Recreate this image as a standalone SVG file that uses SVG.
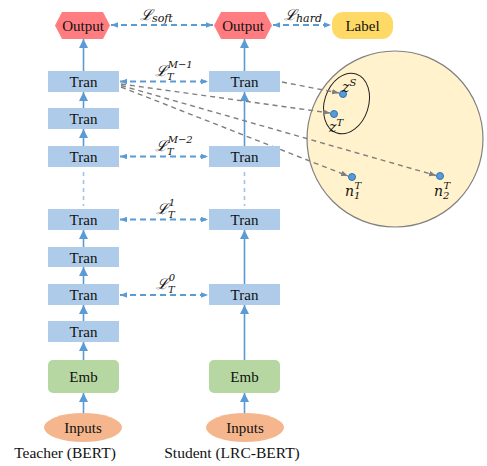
<svg xmlns="http://www.w3.org/2000/svg" width="487" height="466" viewBox="0 0 487 466">
<defs>
<style>
.tran{fill:#AECCEA}
.emb{fill:#B6D7A2}
.inp{fill:#F5B68E}
.out{fill:#FF7C80}
.lab{fill:#FFD966}
.t{font-family:'Liberation Serif','Times New Roman',serif;font-size:15px;fill:#111;text-anchor:middle}
.cap{font-family:'Liberation Serif','Times New Roman',serif;font-size:15.5px;fill:#111;text-anchor:middle}
.m{font-family:'DejaVu Serif','Liberation Serif',serif;font-style:italic;fill:#111}
.up{stroke:#5B9BD5;stroke-width:1.6;fill:none;marker-end:url(#ab)}
.vd{stroke:#9DC3E6;stroke-width:1.6;fill:none;stroke-dasharray:4 4}
.hd{stroke:#5B9BD5;stroke-width:2;fill:none;stroke-dasharray:6 4;marker-start:url(#hs);marker-end:url(#he)}
.gd{stroke:#7F7F7F;stroke-width:1.4;fill:none;stroke-dasharray:5 4;marker-end:url(#ga)}
.dot{fill:#5B9BD5;stroke:#2E75B6;stroke-width:1}
</style>
<marker id="ab" viewBox="0 0 10 10" refX="10" refY="5" markerWidth="9" markerHeight="9" markerUnits="userSpaceOnUse" orient="auto"><path d="M0,0 L10,5 L0,10 z" fill="#5B9BD5"/></marker>
<marker id="he" viewBox="0 0 10 10" refX="10" refY="5" markerWidth="7" markerHeight="7" markerUnits="userSpaceOnUse" orient="auto"><path d="M0,1 L10,5 L0,9 z" fill="#5B9BD5"/></marker>
<marker id="hs" viewBox="0 0 10 10" refX="0" refY="5" markerWidth="7" markerHeight="7" markerUnits="userSpaceOnUse" orient="auto"><path d="M10,1 L0,5 L10,9 z" fill="#5B9BD5"/></marker>
<marker id="ga" viewBox="0 0 10 10" refX="10" refY="5" markerWidth="7" markerHeight="7" markerUnits="userSpaceOnUse" orient="auto"><path d="M0,1 L10,5 L0,9 z" fill="#7F7F7F"/></marker>
</defs>

<g id="space">
<circle cx="395" cy="139" r="88" fill="#FFF2CC" stroke="#808080" stroke-width="1.2"/>
<ellipse cx="346.5" cy="103.5" rx="22" ry="31" transform="rotate(18 346.5 103.5)" fill="none" stroke="#222" stroke-width="1"/>
</g>

<g id="connectors">
<line class="up" x1="83.5" y1="71" x2="83.5" y2="39"/>
<line class="up" x1="83.5" y1="108" x2="83.5" y2="92"/>
<line class="up" x1="83.5" y1="146" x2="83.5" y2="129"/>
<line class="vd" x1="83.5" y1="172" x2="83.5" y2="206"/>
<line class="up" x1="83.5" y1="247" x2="83.5" y2="230"/>
<line class="up" x1="83.5" y1="284" x2="83.5" y2="267"/>
<line class="up" x1="83.5" y1="321" x2="83.5" y2="305"/>
<line class="up" x1="83.5" y1="360" x2="83.5" y2="342"/>
<line class="up" x1="83.5" y1="413" x2="83.5" y2="393"/>
<line class="up" x1="244.5" y1="71" x2="244.5" y2="39"/>
<line class="up" x1="244.5" y1="146" x2="244.5" y2="92"/>
<line class="vd" x1="244.5" y1="172" x2="244.5" y2="206"/>
<line class="up" x1="244.5" y1="284" x2="244.5" y2="230"/>
<line class="up" x1="244.5" y1="360" x2="244.5" y2="305"/>
<line class="up" x1="244.5" y1="413" x2="244.5" y2="393"/>
<line class="hd" x1="111" y1="25" x2="213" y2="25"/>
<line class="hd" x1="273" y1="25" x2="331" y2="25"/>
<line class="hd" x1="120" y1="81.5" x2="208" y2="81.5"/>
<line class="hd" x1="120" y1="156.5" x2="208" y2="156.5"/>
<line class="hd" x1="120" y1="219.5" x2="208" y2="219.5"/>
<line class="hd" x1="120" y1="295" x2="208" y2="295"/>
<line class="gd" x1="282" y1="82" x2="339" y2="93"/>
<line class="gd" x1="121" y1="84" x2="330" y2="113"/>
<line class="gd" x1="121" y1="85.5" x2="436" y2="175.5"/>
<line class="gd" x1="121" y1="87" x2="348" y2="176"/>
</g>

<g id="teacher-output"><polygon class="out" points="55,25.5 62,12 103,12 110,25.5 103,39 62,39"/><text class="t" x="83" y="31" font-family="Liberation Serif, Times New Roman, serif">Output</text></g>
<g id="student-output"><polygon class="out" points="214,25.5 221,12 265,12 272,25.5 265,39 221,39"/><text class="t" x="243" y="31" font-family="Liberation Serif, Times New Roman, serif">Output</text></g>
<g id="label"><rect class="lab" x="332" y="12" width="61" height="27" rx="11"/><text class="t" x="362.5" y="31" font-family="Liberation Serif, Times New Roman, serif">Label</text></g>

<g id="teacher" font-family="Liberation Serif, Times New Roman, serif">
<g id="t-tran-7"><rect class="tran" x="48" y="71" width="71" height="21"/><text class="t" x="83.5" y="87">Tran</text></g>
<g id="t-tran-6"><rect class="tran" x="48" y="108" width="71" height="21"/><text class="t" x="83.5" y="124">Tran</text></g>
<g id="t-tran-5"><rect class="tran" x="48" y="146" width="71" height="21"/><text class="t" x="83.5" y="162">Tran</text></g>
<g id="t-tran-4"><rect class="tran" x="48" y="209" width="71" height="21"/><text class="t" x="83.5" y="225">Tran</text></g>
<g id="t-tran-3"><rect class="tran" x="48" y="247" width="71" height="20"/><text class="t" x="83.5" y="262.5">Tran</text></g>
<g id="t-tran-2"><rect class="tran" x="48" y="284" width="71" height="21"/><text class="t" x="83.5" y="300">Tran</text></g>
<g id="t-tran-1"><rect class="tran" x="48" y="321" width="71" height="21"/><text class="t" x="83.5" y="337">Tran</text></g>
<g id="t-emb"><rect class="emb" x="48" y="360" width="71" height="33" rx="5"/><text class="t" x="83.5" y="382">Emb</text></g>
<g id="t-inputs"><ellipse class="inp" cx="83" cy="427.5" rx="39" ry="14.5"/><text class="t" x="83" y="433">Inputs</text></g>
<text class="cap" x="65" y="458">Teacher (BERT)</text>
</g>

<g id="student" font-family="Liberation Serif, Times New Roman, serif">
<g id="s-tran-4"><rect class="tran" x="209" y="71" width="71" height="21"/><text class="t" x="244.5" y="87">Tran</text></g>
<g id="s-tran-3"><rect class="tran" x="209" y="146" width="71" height="21"/><text class="t" x="244.5" y="162">Tran</text></g>
<g id="s-tran-2"><rect class="tran" x="209" y="209" width="71" height="21"/><text class="t" x="244.5" y="225">Tran</text></g>
<g id="s-tran-1"><rect class="tran" x="209" y="284" width="71" height="21"/><text class="t" x="244.5" y="300">Tran</text></g>
<g id="s-emb"><rect class="emb" x="209" y="360" width="71" height="33" rx="5"/><text class="t" x="244.5" y="382">Emb</text></g>
<g id="s-inputs"><ellipse class="inp" cx="245" cy="427.5" rx="39" ry="14.5"/><text class="t" x="245" y="433">Inputs</text></g>
<text class="cap" x="232" y="458">Student (LRC-BERT)</text>
</g>

<g id="loss-labels">
<text class="m" x="140" y="20" font-size="15">ℒ<tspan font-size="11" dy="2">soft</tspan></text>
<text class="m" x="284" y="20" font-size="15">ℒ<tspan font-size="11" dy="2">hard</tspan></text>
<text class="m" x="155" y="76" font-size="15">ℒ<tspan font-size="10" dy="4">T</tspan><tspan font-size="10" dx="-6" dy="-12">M−1</tspan></text>
<text class="m" x="155" y="151" font-size="15">ℒ<tspan font-size="10" dy="4">T</tspan><tspan font-size="10" dx="-6" dy="-12">M−2</tspan></text>
<text class="m" x="156" y="214" font-size="15">ℒ<tspan font-size="10" dy="4">T</tspan><tspan font-size="10" dx="-6" dy="-12">1</tspan></text>
<text class="m" x="156" y="289" font-size="15">ℒ<tspan font-size="10" dy="4">T</tspan><tspan font-size="10" dx="-6" dy="-12">0</tspan></text>
</g>

<g id="points">
<circle class="dot" cx="343" cy="94" r="3.5"/>
<circle class="dot" cx="334" cy="114" r="3.5"/>
<circle class="dot" cx="352" cy="177" r="3.5"/>
<circle class="dot" cx="440" cy="176" r="3.5"/>
<text class="m" x="342" y="92" font-size="14">z<tspan font-size="10" dy="-6">S</tspan></text>
<text class="m" x="329" y="132" font-size="14">z<tspan font-size="10" dy="-6">T</tspan></text>
<text class="m" x="345" y="196" font-size="14">n<tspan font-size="10" dy="3">1</tspan><tspan font-size="10" dx="-6" dy="-10">T</tspan></text>
<text class="m" x="434" y="196" font-size="14">n<tspan font-size="10" dy="3">2</tspan><tspan font-size="10" dx="-6" dy="-10">T</tspan></text>
</g>
</svg>
